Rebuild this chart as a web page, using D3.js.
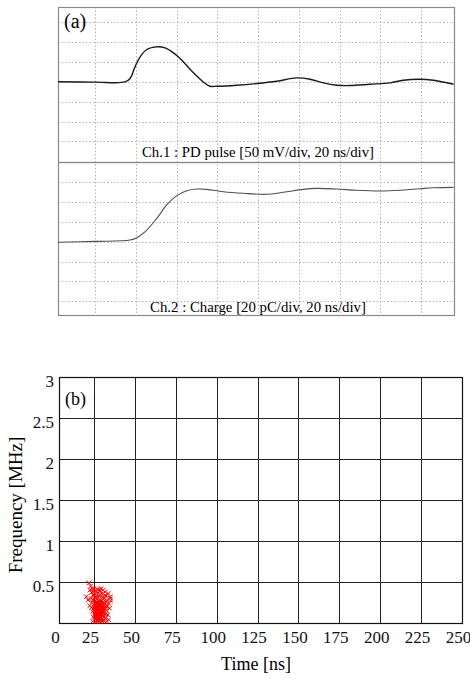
<!DOCTYPE html>
<html lang="en">
<head>
  <meta charset="UTF-8" />
  <title>PD pulse and time-frequency map</title>
  <script src="https://d3js.org/d3.v7.min.js"></script>
  <style>
    body {
      margin: 0;
      background: #fff;
      font-family: "Liberation Serif", "Times New Roman", serif;
    }
    svg {
      display: block;
    }
    .scope-grid line {
      stroke: #b4b4b4;
      stroke-width: 1;
      stroke-dasharray: 1.5,2;
    }
    .tf-grid line {
      stroke: #222;
      stroke-width: 1;
    }
  </style>
</head>
<body>
<script>
// scope screen (a): grid in ns / mV / pC
const scopeGridTimes = [20, 40, 60, 80, 100, 120, 140, 160, 180];
const pulseGridMv = [-150, -100, -50, 0, 50, 100, 150];
const chargeGridPc = [-60, -40, -20, 0, 20, 40, 60];

// Ch.1 PD pulse (mV)
const pulseTime = [1.8, 20, 34.7, 37.2, 39.6, 42.1, 45.4, 50.3, 54.4, 58.5, 62.6, 66.6, 70.7, 74.0, 76.4, 79.7,
  89.5, 99.4, 109.2, 119.0, 125.5, 132.0, 138.6, 145.2, 155.0, 164.8, 171.3, 179.5, 186.0, 196.0];
const pulseMv = [0.5, -0.5, 0, 8.6, 37.9, 63.1, 81.8, 88.4, 85.9, 73.2, 54.8, 32.1, 11.1, -4.0, -10.9, -10.9,
  -8.3, -4.0, 1.8, 10.1, 6.8, -2.5, -8.3, -9.1, -5.8, -2.5, 4.3, 6.8, 4.3, -5.8];

// Ch.2 charge (pC)
const chargeTime = [1.8, 20, 37.2, 40.5, 45.4, 50.3, 55.2, 60.1, 65.0, 69.9, 74.8, 83.0, 92.8, 104.3, 112.4,
  122.2, 128.8, 138.6, 148.4, 159.9, 169.7, 179.5, 186.0, 196.0];
const chargePc = [-0.5, 0.3, 1.7, 4.0, 11.8, 23.6, 37.1, 46.5, 51.5, 53.2, 52.9, 50.5, 48.9, 47.9, 49.9,
  52.9, 53.9, 53.2, 51.9, 51.2, 51.9, 53.5, 54.5, 54.9];

// (b) time-frequency map
const timeTicks = [0, 25, 50, 75, 100, 125, 150, 175, 200, 225, 250];
const freqTicks = [0.5, 1, 1.5, 2, 2.5, 3];
const tfPoints = [
  [26.1,0.12],[27.3,0.08],[28.4,0.15],[25.6,0.21],[29.2,0.10],[27.9,0.19],[26.8,0.25],[28.8,0.05],[30.1,0.14],[25.2,0.16],
  [27.0,0.13],[28.1,0.22],[29.6,0.18],[26.4,0.07],[30.5,0.09],[27.6,0.27],[25.9,0.11],[28.6,0.12],[29.9,0.24],[26.9,0.17],
  [27.4,0.04],[28.9,0.20],[30.8,0.12],[25.4,0.24],[26.6,0.14],[29.4,0.07],[28.2,0.09],[27.7,0.16],[30.3,0.20],[26.2,0.19],
  [28.0,0.03],[29.1,0.15],[27.2,0.21],[25.8,0.08],[30.6,0.16],[28.5,0.26],[26.5,0.10],[29.7,0.11],[27.8,0.12],[28.3,0.18],
  [24.8,0.18],[26.0,0.23],[29.3,0.04],[31.0,0.07],[27.1,0.06],[28.7,0.08],[30.0,0.05],[26.7,0.29],[29.8,0.27],[25.5,0.13],
  [27.5,0.10],[28.9,0.13],[26.3,0.15],[30.4,0.25],[27.9,0.24],[29.5,0.21],[25.1,0.20],[28.1,0.11],[26.8,0.09],[29.0,0.17],
  [27.3,0.18],[30.2,0.10],[28.4,0.06],[26.0,0.05],[31.3,0.13],[27.6,0.14],[29.6,0.14],[25.7,0.27],[28.6,0.23],[27.0,0.22],
  [30.7,0.03],[26.4,0.12],[29.2,0.26],[28.0,0.14],[27.2,0.11],[31.5,0.19],[25.3,0.10],[28.8,0.28],[26.9,0.03],[30.9,0.22],
  [26.6,0.20],[27.8,0.06],[28.3,0.10],[29.0,0.08],[27.4,0.15],[26.2,0.09],[28.7,0.17],[29.5,0.12],[27.0,0.18],[28.0,0.21],
  [26.7,0.11],[27.6,0.12],[28.5,0.14],[29.3,0.19],[27.1,0.09],[26.0,0.14],[28.9,0.10],[27.7,0.20],[28.2,0.07],[29.9,0.16],
  [26.4,0.17],[27.3,0.13],[28.6,0.09],[27.9,0.16],[26.9,0.21],[29.1,0.22],[28.1,0.17],[27.5,0.23],[26.3,0.25],[30.1,0.18],
  [22.8,0.30],[23.5,0.25],[23.9,0.14],[24.2,0.34],[22.1,0.40],[21.4,0.49],[22.5,0.45],[23.2,0.37],[24.5,0.07],[24.0,0.02],
  [19.5,0.32],[20.8,0.28],[21.9,0.21],[23.7,0.42],[24.6,0.39],[25.5,0.35],[26.5,0.33],[27.4,0.37],[28.2,0.41],[29.1,0.35],
  [30.0,0.31],[31.2,0.30],[32.4,0.33],[33.6,0.36],[34.8,0.32],[35.2,0.27],[34.1,0.24],[33.0,0.21],[32.2,0.26],[31.8,0.38],
  [30.6,0.40],[29.4,0.42],[28.6,0.39],[27.0,0.41],[26.0,0.39],[25.0,0.42],[32.7,0.15],[33.5,0.10],[32.1,0.06],[33.9,0.04],
  [32.8,0.02],[31.4,0.02],[29.8,0.02],[28.5,0.02],[27.1,0.02],[25.9,0.02],[24.4,0.28],[23.1,0.19],[34.5,0.18],[35.0,0.30],
  [31.9,0.34],[30.3,0.35],[28.0,0.33],[26.2,0.31],[24.9,0.30],[33.2,0.28],[32.5,0.11],[31.7,0.24],[31.1,0.16],[32.9,0.19]
];

const W = 470, H = 679;
const svg = d3.select("body").append("svg")
  .attr("width", W)
  .attr("height", H);

// ---------- (a) scope screen ----------
const sx = d3.scaleLinear().domain([1.8, 196.2]).range([58, 454]);
const yPulse = d3.scaleLinear().domain([-202, 189]).range([162, 7]);
const yCharge = d3.scaleLinear().domain([-74, 80.5]).range([315, 162]);

const scope = svg.append("g");

const grid = scope.append("g").attr("class", "scope-grid");
grid.selectAll("line.v")
  .data(scopeGridTimes)
  .join("line")
  .attr("class", "v")
  .attr("x1", d => Math.round(sx(d)) + 0.5).attr("x2", d => Math.round(sx(d)) + 0.5)
  .attr("y1", yPulse.range()[1]).attr("y2", yCharge.range()[0]);
grid.selectAll("line.hp")
  .data(pulseGridMv)
  .join("line")
  .attr("class", "hp")
  .attr("x1", sx.range()[0]).attr("x2", sx.range()[1])
  .attr("y1", d => Math.round(yPulse(d)) + 0.5).attr("y2", d => Math.round(yPulse(d)) + 0.5);
grid.selectAll("line.hc")
  .data(chargeGridPc)
  .join("line")
  .attr("class", "hc")
  .attr("x1", sx.range()[0]).attr("x2", sx.range()[1])
  .attr("y1", d => Math.round(yCharge(d)) + 0.5).attr("y2", d => Math.round(yCharge(d)) + 0.5);

// frames
[[yPulse.range()[1], yPulse.range()[0]], [yCharge.range()[1], yCharge.range()[0]]].forEach(([y0, y1]) => {
  scope.append("rect")
    .attr("x", sx.range()[0] + 0.5)
    .attr("y", y0 + 0.5)
    .attr("width", sx.range()[1] - sx.range()[0])
    .attr("height", y1 - y0)
    .attr("fill", "none")
    .attr("stroke", "#8a8a8a")
    .attr("stroke-width", 1.2);
});

const pulseLine = d3.line()
  .x((d, i) => sx(pulseTime[i]))
  .y(d => yPulse(d))
  .curve(d3.curveCatmullRom);
scope.append("path")
  .datum(pulseMv)
  .attr("d", pulseLine)
  .attr("fill", "none")
  .attr("stroke", "#1a1a1a")
  .attr("stroke-width", 1.4);

const chargeLine = d3.line()
  .x((d, i) => sx(chargeTime[i]))
  .y(d => yCharge(d))
  .curve(d3.curveCatmullRom);
scope.append("path")
  .datum(chargePc)
  .attr("d", chargeLine)
  .attr("fill", "none")
  .attr("stroke", "#505050")
  .attr("stroke-width", 1.1);

scope.append("text")
  .attr("x", 64).attr("y", 28)
  .attr("font-size", 20)
  .text("(a)");
scope.append("text")
  .attr("x", 258).attr("y", 157)
  .attr("text-anchor", "middle")
  .attr("font-size", 14.8)
  .text("Ch.1 : PD pulse [50 mV/div, 20 ns/div]");
scope.append("text")
  .attr("x", 258).attr("y", 312)
  .attr("text-anchor", "middle")
  .attr("font-size", 14.8)
  .text("Ch.2 : Charge [20 pC/div, 20 ns/div]");

// ---------- (b) time-frequency ----------
const x = d3.scaleLinear().domain([0, 25, 250]).range([59, 94, 462]);
const y = d3.scaleLinear().domain([0, 3]).range([623, 377]);

const tf = svg.append("g");

const tfGrid = tf.append("g").attr("class", "tf-grid");
tfGrid.selectAll("line.v")
  .data(timeTicks.slice(1, -1))
  .join("line")
  .attr("class", "v")
  .attr("x1", d => Math.round(x(d)) + 0.5).attr("x2", d => Math.round(x(d)) + 0.5)
  .attr("y1", y(3)).attr("y2", y(0));
tfGrid.selectAll("line.h")
  .data(freqTicks.slice(0, -1))
  .join("line")
  .attr("class", "h")
  .attr("x1", x(0)).attr("x2", x(250))
  .attr("y1", d => Math.round(y(d)) + 0.5).attr("y2", d => Math.round(y(d)) + 0.5);

tf.append("rect")
  .attr("x", x(0) + 0.5).attr("y", y(3) + 0.5)
  .attr("width", x(250) - x(0)).attr("height", y(0) - y(3))
  .attr("fill", "none")
  .attr("stroke", "#111")
  .attr("stroke-width", 1.2);

// red x markers
const s = 2.2;
const marks = tf.append("g")
  .attr("stroke", "#f00")
  .attr("stroke-width", 1)
  .attr("fill", "none");
marks.selectAll("path")
  .data(tfPoints)
  .join("path")
  .attr("d", d => {
    const px = x(d[0]), py = y(d[1]);
    return `M${px - s},${py - s}L${px + s},${py + s}M${px - s},${py + s}L${px + s},${py - s}`;
  });

// axes
const xAxis = tf.append("g")
  .attr("transform", `translate(0,${y(0)})`)
  .call(d3.axisBottom(x).tickValues(timeTicks).tickSize(0).tickPadding(8).tickFormat(d3.format("d")));
xAxis.select(".domain").remove();
xAxis.selectAll("text")
  .attr("x", -4)
  .attr("font-size", 17)
  .attr("font-family", "Liberation Serif, serif")
  .attr("fill", "#111");

const yAxis = tf.append("g")
  .attr("transform", `translate(${x(0)},0)`)
  .call(d3.axisLeft(y).tickValues(freqTicks).tickSize(0).tickPadding(5).tickFormat(d => String(d)));
yAxis.select(".domain").remove();
yAxis.selectAll("text")
  .attr("dy", "0.57em")
  .attr("font-size", 17)
  .attr("font-family", "Liberation Serif, serif")
  .attr("fill", "#111");

tf.append("text")
  .attr("x", 65).attr("y", 405)
  .attr("font-size", 18)
  .text("(b)");

tf.append("text")
  .attr("x", 256).attr("y", 670)
  .attr("text-anchor", "middle")
  .attr("font-size", 18)
  .text("Time [ns]");

tf.append("text")
  .attr("transform", `translate(22,${(y(0) + y(3)) / 2 + 5}) rotate(-90)`)
  .attr("text-anchor", "middle")
  .attr("font-size", 19)
  .text("Frequency [MHz]");
</script>
</body>
</html>
